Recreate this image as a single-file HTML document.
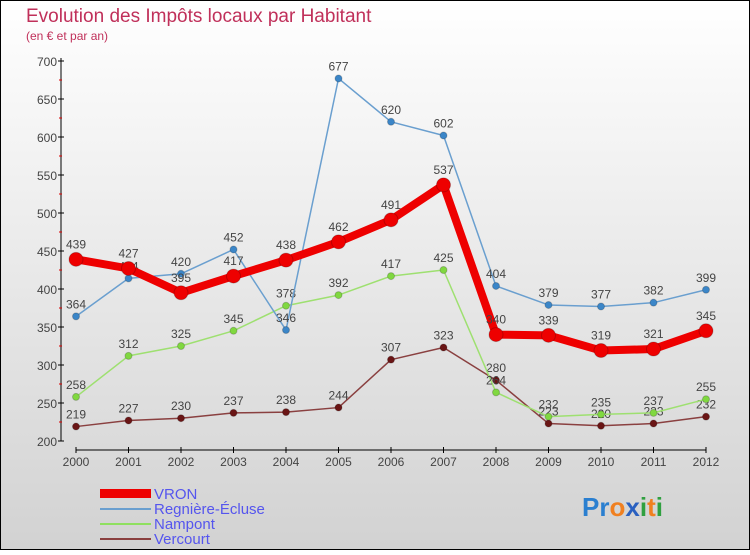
<!DOCTYPE html>
<html><head><meta charset="utf-8"><style>
body{margin:0;width:750px;height:550px;overflow:hidden;font-family:"Liberation Sans",sans-serif}
</style></head><body>
<svg width="750" height="550" xmlns="http://www.w3.org/2000/svg" font-family="Liberation Sans, sans-serif">
<defs><linearGradient id="bg" x1="0" y1="0" x2="0" y2="1"><stop offset="0" stop-color="#ffffff"/><stop offset="1" stop-color="#d2d2d2"/></linearGradient></defs>
<rect x="0.5" y="0.5" width="749" height="549" fill="url(#bg)" stroke="#000"/>
<text x="26" y="22" font-size="19" fill="#c0305a">Evolution des Impôts locaux par Habitant</text>
<text x="26" y="40" font-size="12" fill="#c0305a">(en € et par an)</text>
<g id="axes"></g>
<g id="series"></g>
<g>
<rect x="100" y="489" width="51" height="9" fill="#e00"/>
<text x="154" y="499" font-size="15" fill="#55e">VRON</text>
<rect x="100" y="508" width="51" height="2" fill="#6a9fcf"/>
<text x="154" y="514" font-size="15" fill="#55e">Regnière-Écluse</text>
<rect x="100" y="523" width="51" height="2" fill="#8fe060"/>
<text x="154" y="529" font-size="15" fill="#55e">Nampont</text>
<rect x="100" y="538" width="51" height="2" fill="#8a4040"/>
<text x="154" y="544" font-size="15" fill="#55e">Vercourt</text>
</g>
<text x="582" y="516" font-size="26" font-weight="bold"><tspan fill="#2a7fd0">Pr</tspan><tspan fill="#f08020">o</tspan><tspan fill="#2a60c0">x</tspan><tspan fill="#30a040">i</tspan><tspan fill="#f08020">t</tspan><tspan fill="#30a040">i</tspan></text>
</svg>
<script>
const years=[2000,2001,2002,2003,2004,2005,2006,2007,2008,2009,2010,2011,2012];
const vron=[439,427,395,417,438,462,491,537,340,339,319,321,345];
const regniere=[364,414,420,452,346,677,620,602,404,379,377,382,399];
const nampont=[258,312,325,345,378,392,417,425,264,232,235,237,255];
const vercourt=[219,227,230,237,238,244,307,323,280,223,220,223,232];
const yTicks=[200,250,300,350,400,450,500,550,600,650,700];
const NS="http://www.w3.org/2000/svg";
const X=i=>76+i*52.5;
const Y=v=>441-(v-200)*380/500;
function mk(tag,attrs,parent){const e=document.createElementNS(NS,tag);for(const k in attrs)e.setAttribute(k,attrs[k]);parent.appendChild(e);return e;}
const ax=document.getElementById('axes');
let a=mk('line',{x1:61,y1:58,x2:61,y2:441,stroke:'#000'},ax);


a=mk('line',{x1:76,y1:450,x2:706,y2:450,stroke:'#000'},ax);


yTicks.forEach((t,i)=>{
  mk('line',{x1:58,y1:Y(t),x2:64,y2:Y(t),stroke:'#000'},ax);
  if(i<yTicks.length-1) mk('line',{x1:59,y1:Y(t+25),x2:62,y2:Y(t+25),stroke:'#d00'},ax);
  const tx=mk('text',{x:57,y:Y(t)+5,'font-size':12,'text-anchor':'end',fill:'#444'},ax);
  tx.textContent=t;
  
  
});
years.forEach((y,i)=>{
  mk('line',{x1:X(i),y1:447,x2:X(i),y2:453,stroke:'#000'},ax);
  const tx=mk('text',{x:X(i),y:466,'font-size':12,'text-anchor':'middle',fill:'#444'},ax);
  tx.textContent=y;
  
  
});
const sg=document.getElementById('series');
function series(name,data,color,w,r,fill,labOff){
  const g=mk('g',{},sg);
  
  
  const p=mk('polyline',{points:data.map((v,i)=>X(i)+','+Y(v)).join(' '),fill:'none',stroke:color,'stroke-width':w,'stroke-linejoin':'round'},g);
  
  
  data.forEach((v,i)=>{
    const c=mk('circle',{cx:X(i),cy:Y(v),r:r,fill:fill,stroke:'#0003'},g);
    
    
    const t=mk('text',{x:X(i),y:Y(v)-labOff,'font-size':12,'text-anchor':'middle',fill:'#444'},g);
    t.textContent=v;
    
    
  });
}
series('vercourt',vercourt,'#8a4040',1.5,3.5,'#6a1515',8);
series('nampont',nampont,'#9ee070',1.5,3.5,'#80d840',8);
series('regniere',regniere,'#6a9fcf',1.5,3.5,'#3b86c8',8);
series('vron',vron,'#ee0000',8,7,'#ee0000',11);
</script>
</body></html>
